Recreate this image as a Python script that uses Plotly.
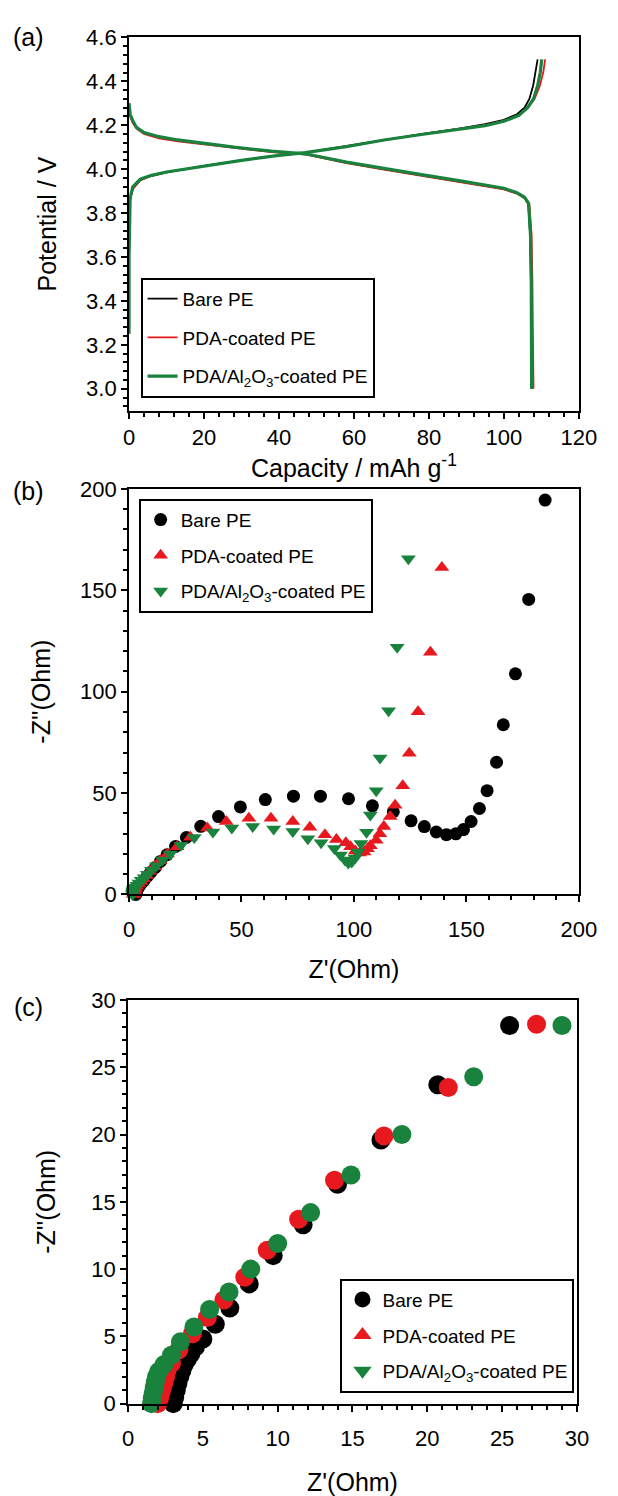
import plotly.graph_objects as go

# ---------------- Panel (a): charge / discharge curves ----------------
series_names = ["Bare PE", "PDA-coated PE", "PDA/Al<sub>2</sub>O<sub>3</sub>-coated PE"]
colors = ["#000000", "#e8191e", "#19823c"]

chg_cap_bare = [0, 0, 0.3, 1, 3, 6, 10, 15, 20, 30, 40, 47, 58, 68, 78, 88, 95, 100, 103.5, 105.5, 106.8, 107.8, 108.5, 109.0]
chg_v_bare = [3.25, 3.6, 3.86, 3.91, 3.95, 3.97, 3.985, 4.0, 4.015, 4.04, 4.063, 4.075, 4.105, 4.135, 4.16, 4.185, 4.205, 4.225, 4.25, 4.28, 4.32, 4.38, 4.44, 4.5]
chg_cap_pda = [0, 0, 0.3, 1, 3, 6, 10, 15, 20, 30, 40, 47, 58, 68, 78, 88, 95, 100, 104.0, 106.5, 108.2, 109.6, 110.5, 111.0]
chg_v_pda = [3.25, 3.6, 3.86, 3.91, 3.95, 3.97, 3.985, 4.0, 4.015, 4.04, 4.063, 4.075, 4.105, 4.135, 4.16, 4.183, 4.2, 4.22, 4.245, 4.28, 4.32, 4.38, 4.44, 4.5]
chg_cap_al = [0, 0, 0.3, 1, 3, 6, 10, 15, 20, 30, 40, 47, 58, 68, 78, 88, 95, 100, 104.0, 106.3, 107.9, 109.0, 109.7, 110.1]
chg_v_al = [3.25, 3.6, 3.87, 3.92, 3.955, 3.972, 3.987, 4.0, 4.015, 4.04, 4.063, 4.075, 4.103, 4.133, 4.158, 4.18, 4.198, 4.218, 4.245, 4.28, 4.32, 4.38, 4.44, 4.5]

dis_cap_bare = [0, 0.3, 1, 2, 4, 8, 13, 18, 28, 38, 47, 58, 68, 78, 88, 95, 100, 103.5, 105.5, 106.5, 107.0, 107.2, 107.3, 107.3]
dis_v_bare = [4.3, 4.25, 4.22, 4.19, 4.165, 4.145, 4.13, 4.12, 4.097, 4.08, 4.068, 4.03, 4.0, 3.972, 3.945, 3.925, 3.91, 3.89, 3.87, 3.84, 3.7, 3.5, 3.2, 3.0]
dis_cap_pda = [0, 0.3, 1, 2, 4, 8, 13, 18, 28, 38, 47, 58, 68, 78, 88, 95, 100, 103.5, 105.6, 106.8, 107.4, 107.6, 107.8, 107.9]
dis_v_pda = [4.29, 4.24, 4.21, 4.185, 4.16, 4.14, 4.127, 4.117, 4.095, 4.078, 4.067, 4.028, 3.998, 3.97, 3.943, 3.923, 3.908, 3.888, 3.868, 3.84, 3.7, 3.5, 3.2, 3.0]
dis_cap_al = [0, 0.3, 1, 2, 4, 8, 13, 18, 28, 38, 47, 58, 68, 78, 88, 95, 100, 103.5, 105.5, 106.6, 107.1, 107.3, 107.4, 107.4]
dis_v_al = [4.3, 4.25, 4.22, 4.19, 4.167, 4.148, 4.133, 4.122, 4.1, 4.082, 4.07, 4.032, 4.002, 3.975, 3.948, 3.928, 3.913, 3.893, 3.872, 3.845, 3.7, 3.5, 3.2, 3.0]

# ---------------- Panels (b) and (c): Nyquist data ----------------
zre_bare = [3.02, 3.12, 3.22, 3.33, 3.46, 3.6, 3.75, 3.96, 4.2, 4.5, 5.0, 5.83, 6.8, 8.1, 9.7, 11.7, 14.0, 16.9, 20.7, 25.5,
            31.9, 39.8, 49.5, 60.6, 73.1, 85.1, 97.6, 108.2, 117.5, 125.4, 131.3, 136.6, 141.1, 145.3, 148.7, 152.1,
            155.8, 159.2, 163.4, 166.4, 171.8, 177.7, 185.0]
zim_bare = [0.0, 0.5, 1.0, 1.5, 2.0, 2.45, 2.9, 3.3, 3.7, 4.2, 4.8, 5.9, 7.1, 8.9, 11.0, 13.3, 16.3, 19.6, 23.7, 28.1,
            33.6, 38.4, 43.2, 46.8, 48.5, 48.5, 47.2, 43.7, 40.8, 36.3, 33.5, 30.8, 29.5, 29.9, 32.0, 36.0,
            42.4, 51.2, 65.2, 83.7, 108.8, 145.5, 194.5]

zre_pda = [1.98, 2.1, 2.2, 2.3, 2.4, 2.5, 2.6, 2.9, 3.4, 4.3, 5.3, 6.4, 7.8, 9.3, 11.4, 13.8, 17.1, 21.4, 27.3,
           34.8, 43.2, 53.3, 63.1, 72.8, 80.4, 87.1, 92.2, 96.4, 98.5, 100.6, 102.5, 104.5, 106.0, 107.3, 109.9,
           111.5, 113.3, 116.1, 118.3, 121.7, 124.6, 128.5, 134.0, 139.1]
zim_pda = [0.0, 0.4, 0.8, 1.2, 1.6, 2.0, 2.45, 3.0, 4.0, 5.2, 6.4, 7.7, 9.4, 11.4, 13.7, 16.6, 19.9, 23.5, 28.2,
           32.8, 36.0, 37.6, 37.6, 36.0, 33.1, 29.5, 27.1, 25.5, 23.5, 21.5, 20.5, 21.0, 22.5, 24.0, 26.7,
           30.0, 33.5, 38.5, 44.0, 53.6, 69.7, 90.1, 119.5, 161.3]

zre_al = [1.56, 1.62, 1.68, 1.75, 1.82, 1.9, 2.05, 2.4, 2.9, 3.5, 4.4, 5.45, 6.75, 8.2, 10.0, 12.2, 14.9, 18.3, 23.1, 29.0,
          37.3, 45.7, 55.0, 64.3, 72.8, 79.5, 85.4, 91.3, 94.0, 96.0, 97.5, 99.0, 100.5, 101.8, 103.1, 105.6,
          107.3, 109.9, 111.6, 115.4, 119.2, 124.2]
zim_al = [0.0, 0.4, 0.8, 1.2, 1.6, 2.0, 2.4, 2.9, 3.6, 4.6, 5.7, 7.0, 8.3, 10.0, 11.9, 14.2, 17.0, 20.0, 24.3, 28.1,
          30.8, 32.8, 33.5, 32.3, 31.1, 27.5, 25.5, 22.7, 19.5, 17.0, 15.5, 16.0, 18.0, 21.0, 25.2, 30.7,
          39.2, 51.2, 67.3, 90.6, 121.9, 165.6]

ZOOM_MAX = 30  # panel (c) shows the high-frequency part of the same spectra

SANS = "Liberation Sans, Arial, sans-serif"
TICK_FONT = dict(family=SANS, size=22, color="black")
TITLE_FONT = dict(family=SANS, size=25, color="black")
LEG_FONT = dict(family=SANS, size=19, color="black")

fig = go.Figure()

# panel (a)
chg = [(chg_cap_bare, chg_v_bare), (chg_cap_pda, chg_v_pda), (chg_cap_al, chg_v_al)]
dis = [(dis_cap_bare, dis_v_bare), (dis_cap_pda, dis_v_pda), (dis_cap_al, dis_v_al)]
widths = [1.8, 1.8, 3.2]
for i in range(3):
    fig.add_trace(go.Scatter(x=chg[i][0], y=chg[i][1], mode="lines", name=series_names[i],
                             line=dict(color=colors[i], width=widths[i]), legend="legend",
                             legendgroup="a%d" % i, xaxis="x", yaxis="y"))
    fig.add_trace(go.Scatter(x=dis[i][0], y=dis[i][1], mode="lines", showlegend=False,
                             legendgroup="a%d" % i,
                             line=dict(color=colors[i], width=widths[i]), xaxis="x", yaxis="y"))

# panel (b)
symbols = ["circle", "triangle-up", "triangle-down"]
data_b = [(zre_bare, zim_bare), (zre_pda, zim_pda), (zre_al, zim_al)]
for i in range(3):
    fig.add_trace(go.Scatter(x=data_b[i][0], y=data_b[i][1], mode="markers", name=series_names[i],
                             marker=dict(symbol=symbols[i], color=colors[i], size=13),
                             cliponaxis=False, legend="legend2", legendgroup="b%d" % i,
                             xaxis="x2", yaxis="y2"))

# panel (c): same data, zoomed, drawn as circles
for i in range(3):
    xs = [x for x in data_b[i][0] if x <= ZOOM_MAX]
    ys = [y for x, y in zip(data_b[i][0], data_b[i][1]) if x <= ZOOM_MAX]
    fig.add_trace(go.Scatter(x=xs, y=ys, mode="markers", showlegend=False,
                             marker=dict(symbol="circle", color=colors[i], size=19),
                             cliponaxis=False, xaxis="x3", yaxis="y3"))
for i in range(3):
    fig.add_trace(go.Scatter(x=[None], y=[None], mode="markers", name=series_names[i],
                             marker=dict(symbol=symbols[i], color=colors[i], size=16),
                             legend="legend3", legendgroup="c%d" % i, xaxis="x3", yaxis="y3"))

W, H = 618, 1496


def ax(domain, rng, dtick, minor, title, anchor, standoff, fmt=None, lab_off=None):
    d = dict(domain=domain, range=rng, dtick=dtick, tick0=0, anchor=anchor,
             showline=True, linecolor="black", linewidth=2, mirror=True,
             ticks="outside", ticklen=6, tickwidth=2, tickcolor="black",
             showgrid=False, zeroline=False, tickfont=TICK_FONT,
             minor=dict(dtick=minor, ticks="outside", ticklen=4, tickwidth=1.5, tickcolor="black"),
             title=dict(text=title, font=TITLE_FONT, standoff=standoff))
    if fmt:
        d["tickformat"] = fmt
    if lab_off is not None:
        d["ticklabelstandoff"] = lab_off
    return d


xd = [128 / W, 596 / W]
xd3 = [127 / W, 594 / W]
yda = [1 - 408 / H, 1 - 26 / H]
ydb = [1 - 903 / H, 1 - 488 / H]
ydc = [1 - 1424 / H, 1 - 1011 / H]

leg_common = dict(xanchor="left", yanchor="top", font=LEG_FONT, bordercolor="black",
                  borderwidth=2, bgcolor="white", traceorder="grouped")

fig.update_layout(
    width=W, height=H, margin=dict(l=0, r=0, t=0, b=0),
    paper_bgcolor="white", plot_bgcolor="white", showlegend=True,
    xaxis=ax(xd, [0, 120], 20, 4, "Capacity / mAh g<sup>-1</sup>", "y", 6),
    yaxis=ax(yda, [2.9, 4.6], 0.2, 0.04, "Potential / V", "x", 22, ".1f"),
    xaxis2=ax(xd, [0, 200], 50, 10, "Z'(Ohm)", "y2", 20, lab_off=8),
    yaxis2=ax(ydb, [0, 200], 50, 10, "-Z''(Ohm)", "x2", 22),
    xaxis3=ax(xd3, [0, 30], 5, 1, "Z'(Ohm)", "y3", 27, lab_off=8),
    yaxis3=ax(ydc, [0, 30], 5, 1, "-Z''(Ohm)", "x3", 28),
    legend=dict(x=140 / W, y=1 - 272 / H, itemwidth=30, tracegroupgap=11, **leg_common),
    legend2=dict(x=138 / W, y=1 - 498 / H, itemsizing="trace", tracegroupgap=8, **leg_common),
    legend3=dict(x=348 / W, y=1 - 1296 / H, itemsizing="trace", tracegroupgap=8, **leg_common),
    annotations=[
        dict(text="(a)", x=23 / W, y=1 - 26 / H, xref="paper", yref="paper", showarrow=False,
             font=TITLE_FONT, xanchor="center", yanchor="middle"),
        dict(text="(b)", x=23 / W, y=1 - 490 / H, xref="paper", yref="paper", showarrow=False,
             font=TITLE_FONT, xanchor="center", yanchor="middle"),
        dict(text="(c)", x=23 / W, y=1 - 1018 / H, xref="paper", yref="paper", showarrow=False,
             font=TITLE_FONT, xanchor="center", yanchor="middle"),
    ],
)

fig.write_html("out.html")
